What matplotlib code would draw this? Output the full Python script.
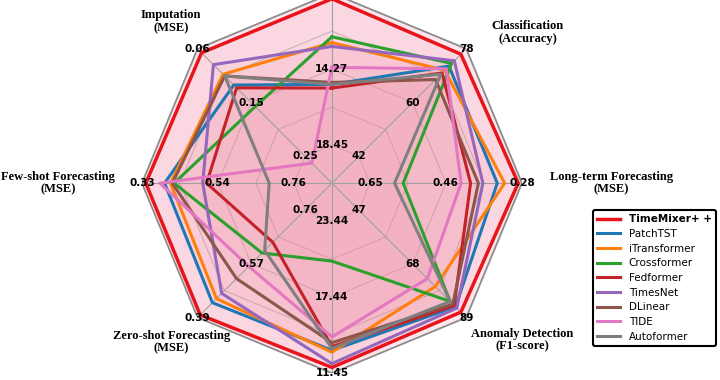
import numpy as np
import matplotlib.pyplot as plt

# axes go clockwise from the top; top and bottom task names fall outside the crop
tasks = [None, 'Classification\n(Accuracy)', 'Long-term Forecasting\n(MSE)',
         'Anomaly Detection\n(F1-score)', None, 'Zero-shot Forecasting\n(MSE)',
         'Few-shot Forecasting\n(MSE)', 'Imputation\n(MSE)']

# tick values at the 1st, 3rd and 5th ring of every axis
ticks = [[18.45, 14.27, 10.09], [42, 60, 78], [0.65, 0.46, 0.28], [47, 68, 89],
         [23.44, 17.44, 11.45], [0.76, 0.57, 0.39], [0.76, 0.54, 0.33], [0.25, 0.15, 0.06]]

models = ['TimeMixer+ +', 'PatchTST', 'iTransformer', 'Crossformer', 'Fedformer',
          'TimesNet', 'DLinear', 'TIDE', 'Autoformer']
colors = ['#e8141c', '#1f77b4', '#ff7f0e', '#2ca02c', '#c42228',
          '#9467bd', '#8c564b', '#e377c2', '#7f7f7f']

timemixer = [10.40, 76.2, 0.289, 86.9, 11.90, 0.399, 0.341, 0.067]
patchtst = [15.11, 72.2, 0.340, 84.8, 13.25, 0.441, 0.394, 0.124]
itransformer = [12.81, 70.8, 0.322, 76.9, 13.10, 0.455, 0.411, 0.105]
crossformer = [12.49, 73.1, 0.569, 82.7, 20.29, 0.612, 0.421, 0.162]
fedformer = [15.31, 69.9, 0.405, 84.3, 13.55, 0.649, 0.513, 0.129]
timesnet = [13.02, 74.0, 0.375, 85.3, 12.20, 0.473, 0.502, 0.088]
dlinear = [15.00, 67.7, 0.386, 83.75, 13.85, 0.524, 0.416, 0.108]
tide = [14.17, 71.3, 0.428, 73.8, 14.30, 0.566, 0.381, 0.262]
autoformer = [15.11, 69.5, 0.590, 82.7, 13.40, 0.621, 0.690, 0.108]
scores = [timemixer, patchtst, itransformer, crossformer, fedformer,
          timesnet, dlinear, tide, autoformer]


def to_radius(values):
    # each axis is linear: first tick -> 0.2, last tick -> 1.0
    out = []
    for v, t in zip(values, ticks):
        out.append(0.2 + 0.8 * (v - t[0]) / (t[2] - t[0]))
    return np.array(out)


n = len(ticks)
angles = np.arange(n) * 2 * np.pi / n
closed = np.append(angles, angles[0])

fig = plt.figure(figsize=(7.2, 3.8), dpi=100)
ax = fig.add_axes([0.197, 0.018, 0.528, 1.0], polar=True)
ax.set_theta_offset(np.pi / 2)
ax.set_theta_direction(-1)
ax.set_ylim(0, 1.0)
ax.spines['polar'].set_visible(False)
ax.set_yticks([])
ax.set_xticks(angles)
ax.set_xticklabels([])
ax.xaxis.grid(True, color='#a0a0a0', lw=0.8)
ax.set_facecolor('none')

# background octagon and rings
ax.fill(closed, np.ones(n + 1), color='#fde6ec', zorder=0)
for r in [0.2, 0.4, 0.6, 0.8]:
    ax.plot(closed, np.full(n + 1, r), color='#a0a0a0', lw=0.8, zorder=1)
ax.plot(closed, np.ones(n + 1), color='#8c8c8c', lw=1.3, zorder=1)

lines = []
for name, vals, c in zip(models, scores, colors):
    r = to_radius(vals)
    r = np.append(r, r[0])
    if name == 'TimeMixer+ +':
        ax.fill(closed, r, color='#f9c9d4', alpha=0.45, zorder=1)
        ln, = ax.plot(closed, r, color=c, lw=2.5, zorder=5, label=name)
    else:
        ax.fill(closed, r, color='#f28aa0', alpha=0.07, zorder=1)
        ln, = ax.plot(closed, r, color=c, lw=2.2, zorder=3, label=name)
    lines.append(ln)

# tick labels along each spoke
for a, t in zip(angles, ticks):
    for r, v in zip([0.2, 0.6, 1.0], t):
        if a == 0 and r == 1.0:
            continue
        ax.text(a, r, f'{v:g}', ha='center', va='center', fontsize=7.5,
                fontweight='bold', zorder=6)

# task names
label_pos = [None, (0.915, 1.30), (np.pi / 2, 1.47), (2.26, 1.30), None,
             (3.93, 1.19), (3 * np.pi / 2, 1.44), (5.50, 1.20)]
for name, pos in zip(tasks, label_pos):
    if name is None:
        continue
    ax.text(pos[0], pos[1], name, ha='center', va='center', fontsize=9,
            fontweight='bold', family='Liberation Serif', linespacing=1.05)

leg = fig.legend(handles=lines, loc='upper left', bbox_to_anchor=(0.824, 0.447),
                 bbox_transform=fig.transFigure, borderaxespad=0, fontsize=7.5,
                 frameon=True, fancybox=True, handlelength=2.2, labelspacing=0.45)
leg.get_frame().set_edgecolor('black')
leg.get_frame().set_linewidth(1.5)
leg.get_frame().set_alpha(1)
leg.get_texts()[0].set_fontweight('bold')

fig.savefig('out.png', dpi=100)
